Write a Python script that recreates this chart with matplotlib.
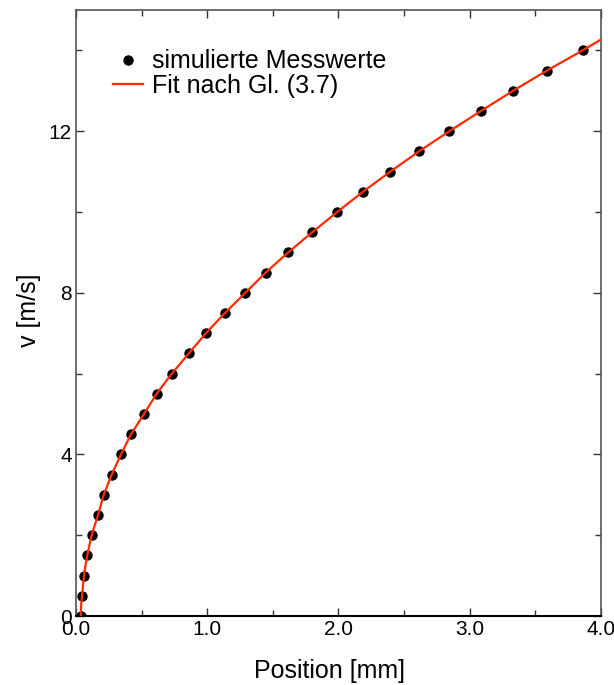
import matplotlib
matplotlib.use("Agg")
import matplotlib.pyplot as plt
from matplotlib.ticker import MultipleLocator, FormatStrFormatter

plt.rcParams['font.family'] = ['Liberation Sans', 'DejaVu Sans']

# simulated measurement values: velocity v [m/s] vs. position [mm]
velocity = [0.0, 0.5, 1.0, 1.5, 2.0, 2.5, 3.0, 3.5, 4.0, 4.5, 5.0, 5.5, 6.0, 6.5,
            7.0, 7.5, 8.0, 8.5, 9.0, 9.5, 10.0, 10.5, 11.0, 11.5, 12.0, 12.5,
            13.0, 13.5, 14.0]
position = [0.036, 0.046, 0.061, 0.086, 0.12, 0.168, 0.211, 0.272, 0.343, 0.419,
            0.518, 0.614, 0.73, 0.86, 0.99, 1.135, 1.29, 1.445, 1.617, 1.80,
            1.99, 2.186, 2.395, 2.613, 2.845, 3.085, 3.33, 3.588, 3.86]

# fit curve (Gl. 3.7)
fit_position = [0.036, 0.038, 0.041, 0.046, 0.053, 0.061, 0.072, 0.086, 0.102, 0.12,
                0.143, 0.168, 0.211, 0.272, 0.343, 0.419, 0.518, 0.614, 0.73, 0.86,
                0.99, 1.135, 1.29, 1.445, 1.617, 1.80, 1.99, 2.186, 2.395, 2.613,
                2.845, 3.085, 3.33, 3.588, 3.86, 4.0]
fit_velocity = [0.0, 0.2, 0.35, 0.5, 0.75, 1.0, 1.25, 1.5, 1.75, 2.0,
                2.25, 2.5, 3.0, 3.5, 4.0, 4.5, 5.0, 5.5, 6.0, 6.5,
                7.0, 7.5, 8.0, 8.5, 9.0, 9.5, 10.0, 10.5, 11.0, 11.5,
                12.0, 12.5, 13.0, 13.5, 14.0, 14.27]

x_major = [0.0, 1.0, 2.0, 3.0, 4.0]
y_major = [0, 4, 8, 12]

fig = plt.figure(figsize=(6.14, 6.85), dpi=100)
ax = fig.add_axes([0.1238, 0.1007, 0.9788 - 0.1238, 0.9854 - 0.1007])

ax.plot(position, velocity, 'o', color='black', markersize=6.5, zorder=3,
        label='simulierte Messwerte')
ax.plot(fit_position, fit_velocity, '-', color='#ff2a00', linewidth=1.6, zorder=4,
        label='Fit nach Gl. (3.7)')

ax.set_xlim(0, 4.0)
ax.set_ylim(0, 15)
ax.set_xticks(x_major)
ax.set_yticks(y_major)
ax.xaxis.set_minor_locator(MultipleLocator(0.5))
ax.yaxis.set_minor_locator(MultipleLocator(2))
ax.xaxis.set_major_formatter(FormatStrFormatter('%.1f'))

ax.tick_params(which='both', direction='in', top=True, right=True,
               labelsize=15, colors='#333333', labelcolor='black')
ax.tick_params(which='major', length=6, width=1)
ax.tick_params(which='minor', length=4, width=1)
ax.tick_params(axis='x', pad=3)
ax.tick_params(axis='y', pad=3)

for side in ['left', 'top', 'right']:
    ax.spines[side].set_color('#555555')
    ax.spines[side].set_linewidth(1.2)
ax.spines['bottom'].set_color('black')
ax.spines['bottom'].set_linewidth(1.5)

ax.set_xlabel('Position [mm]', fontsize=18)
ax.set_ylabel('v [m/s]', fontsize=18)
ax.xaxis.set_label_coords(0.482, -0.071)
ax.yaxis.set_label_coords(-0.066, 0.505)

leg = ax.legend(loc='upper left', bbox_to_anchor=(0.07, 0.935), frameon=False,
                fontsize=18, handlelength=1.2, handletextpad=0.38,
                labelspacing=0.03, borderpad=0, borderaxespad=0,
                markerscale=1.0)

fig.savefig('out.png', dpi=100)
